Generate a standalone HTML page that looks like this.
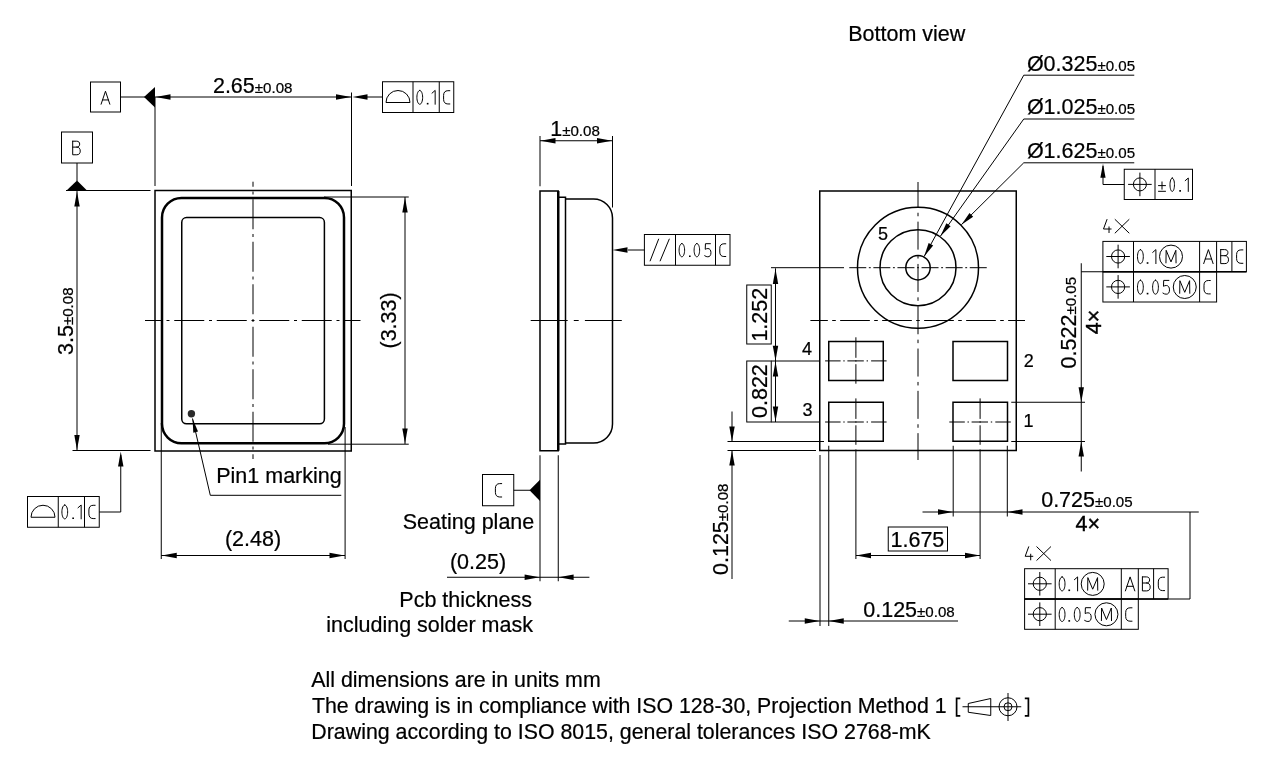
<!DOCTYPE html>
<html><head><meta charset="utf-8"><style>
html,body{margin:0;padding:0;background:#fff;}
svg{display:block;will-change:transform;}
text{font-family:"Liberation Sans",sans-serif;fill:#000;}
</style></head><body>
<svg width="1280" height="768" viewBox="0 0 1280 768" stroke="#000" fill="none">
<rect x="0" y="0" width="1280" height="768" fill="#fff" stroke="none"/>
<g>
<rect x="90.5" y="82" width="30" height="30" fill="none" stroke-width="1"/>
<path d="M0,14 L4.7,0 L9.4,14 M1.55,9.4 L7.85,9.4" transform="translate(101.1,91.2) scale(0.93,0.93)" fill="none" stroke-width="1" vector-effect="non-scaling-stroke" stroke-linecap="round" stroke-linejoin="round"/>
<line x1="120.5" y1="97" x2="145" y2="97" stroke-width="1" />
<path d="M155,87 L155,107.5 L144,97 Z" fill="#000" stroke="none"/>
<line x1="155" y1="97" x2="351.5" y2="97" stroke-width="1" />
<path d="M155.5,97 L170.5,94.3 L170.5,99.7 Z" fill="#000" stroke="none"/>
<path d="M351,97 L336,99.7 L336,94.3 Z" fill="#000" stroke="none"/>
<line x1="155" y1="97" x2="155" y2="186" stroke-width="1" />
<line x1="351.5" y1="92.5" x2="351.5" y2="186" stroke-width="1" />
<text x="212.93" y="92.75" font-size="21.5" stroke="#000" stroke-width="0.22">2.65<tspan font-size="15.1">±0.08</tspan></text>
<rect x="382.5" y="81.75" width="71.25" height="30.75" fill="none" stroke-width="1"/>
<line x1="413" y1="81.75" x2="413" y2="112.5" stroke-width="1" />
<line x1="439.25" y1="81.75" x2="439.25" y2="112.5" stroke-width="1" />
<path d="M386,102.5 A12,12 0 0 1 410,102.5 Z" fill="none" stroke-width="1"/>
<path d="M2.9,0 C4.5,0 5.8,3.1 5.8,7 C5.8,10.9 4.5,14 2.9,14 C1.3,14 0,10.9 0,7 C0,3.1 1.3,0 2.9,0 Z" transform="translate(416.9,90.4) scale(0.99,0.99)" fill="none" stroke-width="1" vector-effect="non-scaling-stroke" stroke-linecap="round" stroke-linejoin="round"/>
<path d="M0,12.6 L1.7,12.6 L1.7,14.2 L0,14.2 Z" transform="translate(426.8,90.4) scale(0.99,0.99)" fill="#000" stroke-width="0" vector-effect="non-scaling-stroke" stroke-linecap="round" stroke-linejoin="round"/>
<path d="M0,2.8 L3.2,0 L3.2,14" transform="translate(432,90.4) scale(0.99,0.99)" fill="none" stroke-width="1" vector-effect="non-scaling-stroke" stroke-linecap="round" stroke-linejoin="round"/>
<path d="M6.6,0.3 L4.6,0.3 C1.8,0.3 0.3,2.1 0.3,5 L0.3,9 C0.3,11.9 1.8,13.7 4.6,13.7 L6.6,13.7" transform="translate(443.3,90.4) scale(0.99,0.99)" fill="none" stroke-width="1" vector-effect="non-scaling-stroke" stroke-linecap="round" stroke-linejoin="round"/>
<line x1="366" y1="97" x2="382.5" y2="97" stroke-width="1" />
<path d="M352.5,97 L367.5,94.3 L367.5,99.7 Z" fill="#000" stroke="none"/>
<rect x="61.5" y="132" width="31" height="31" fill="none" stroke-width="1"/>
<path d="M0.4,0 L0.4,14 L4.6,14 C6.9,14 8.2,12.6 8.2,10.2 C8.2,7.7 6.9,6.1 4.6,6.1 L0.4,6.1 M4.4,6.1 C6.5,6.1 7.6,4.9 7.6,3 C7.6,1.1 6.5,0 4.4,0 L0.4,0" transform="translate(72.3,141.2) scale(0.97,0.97)" fill="none" stroke-width="1" vector-effect="non-scaling-stroke" stroke-linecap="round" stroke-linejoin="round"/>
<line x1="77" y1="163" x2="77" y2="181" stroke-width="1" />
<path d="M66,191 L87.5,191 L77,180.5 Z" fill="#000" stroke="none"/>
<line x1="66" y1="190.5" x2="150.5" y2="190.5" stroke-width="1" />
<line x1="77" y1="191" x2="77" y2="450.5" stroke-width="1" />
<path d="M77,191.5 L79.7,206.5 L74.3,206.5 Z" fill="#000" stroke="none"/>
<path d="M77,450 L74.3,435 L79.7,435 Z" fill="#000" stroke="none"/>
<line x1="72.5" y1="450.5" x2="150.5" y2="450.5" stroke-width="1" />
<text x="0" y="0" font-size="21.5" stroke="#000" stroke-width="0.22" transform="translate(72.9,355) rotate(-90)">3.5<tspan font-size="15.1">±0.08</tspan></text>
<rect x="155" y="190.5" width="196.25" height="260.5" fill="none" stroke-width="1.5"/>
<rect x="162" y="198" width="182" height="245.3" rx="19.5" fill="none" stroke-width="2.5"/>
<rect x="181.75" y="217.6" width="142.65" height="206.2" rx="4.8" fill="none" stroke-width="1.5"/>
<circle cx="191.4" cy="413.8" r="3.7" fill="#2a2a2a" stroke-width="0"/>
<line x1="192.5" y1="418.5" x2="210.3" y2="495.3" stroke-width="1" />
<path d="M192.5,418.5 L198,431.6 L193.32,432.68 Z" fill="#000" stroke="none"/>
<line x1="210.3" y1="495.3" x2="341.25" y2="495.3" stroke-width="1" />
<text x="216.24" y="482.75" font-size="21.5" stroke="#000" stroke-width="0.22">Pin1 marking</text>
<path d="M145,320.5 L161.75,320.5 M166.5,320.5 L169.5,320.5 M174.25,320.5 L204.25,320.5 M209,320.5 L212,320.5 M216.75,320.5 L246.75,320.5 M251.5,320.5 L254.5,320.5 M259.25,320.5 L289.25,320.5 M294,320.5 L297,320.5 M301.75,320.5 L331.75,320.5 M336.5,320.5 L339.5,320.5 M344.25,320.5 L360.5,320.5 " stroke-width="1" fill="none"/>
<path d="M253,181.7 L253,186.75 M253,191.5 L253,194.5 M253,199.25 L253,229.25 M253,234 L253,237 M253,241.75 L253,271.75 M253,276.5 L253,279.5 M253,284.25 L253,314.25 M253,319 L253,322 M253,326.75 L253,356.75 M253,361.5 L253,364.5 M253,369.25 L253,399.25 M253,404 L253,407 M253,411.75 L253,441.75 M253,446.5 L253,449.5 M253,454.25 L253,459 " stroke-width="1" fill="none"/>
<line x1="324" y1="197" x2="408.75" y2="197" stroke-width="1" />
<line x1="328" y1="444.2" x2="408.75" y2="444.2" stroke-width="1" />
<line x1="405" y1="197" x2="405" y2="444" stroke-width="1" />
<path d="M405,197.5 L407.7,212.5 L402.3,212.5 Z" fill="#000" stroke="none"/>
<path d="M405,443.5 L402.3,428.5 L407.7,428.5 Z" fill="#000" stroke="none"/>
<text x="0" y="0" font-size="21.5" stroke="#000" stroke-width="0.22" transform="translate(395.9,348.5) rotate(-90)">(3.33)</text>
<line x1="161.25" y1="423" x2="161.25" y2="559" stroke-width="1" />
<line x1="345.1" y1="427" x2="345.1" y2="559" stroke-width="1" />
<line x1="161.25" y1="555.5" x2="345" y2="555.5" stroke-width="1" />
<path d="M161.75,555.5 L176.75,552.8 L176.75,558.2 Z" fill="#000" stroke="none"/>
<path d="M344.5,555.5 L329.5,558.2 L329.5,552.8 Z" fill="#000" stroke="none"/>
<text x="224.93" y="546" font-size="21.5" stroke="#000" stroke-width="0.22">(2.48)</text>
<rect x="27.5" y="496.5" width="71.75" height="30.75" fill="none" stroke-width="1"/>
<line x1="58.25" y1="496.5" x2="58.25" y2="527.25" stroke-width="1" />
<line x1="84.5" y1="496.5" x2="84.5" y2="527.25" stroke-width="1" />
<path d="M31,517.25 A12,12 0 0 1 55,517.25 Z" fill="none" stroke-width="1"/>
<path d="M2.9,0 C4.5,0 5.8,3.1 5.8,7 C5.8,10.9 4.5,14 2.9,14 C1.3,14 0,10.9 0,7 C0,3.1 1.3,0 2.9,0 Z" transform="translate(61.9,505) scale(0.99,0.99)" fill="none" stroke-width="1" vector-effect="non-scaling-stroke" stroke-linecap="round" stroke-linejoin="round"/>
<path d="M0,12.6 L1.7,12.6 L1.7,14.2 L0,14.2 Z" transform="translate(72.3,505) scale(0.99,0.99)" fill="#000" stroke-width="0" vector-effect="non-scaling-stroke" stroke-linecap="round" stroke-linejoin="round"/>
<path d="M0,2.8 L3.2,0 L3.2,14" transform="translate(78,505) scale(0.99,0.99)" fill="none" stroke-width="1" vector-effect="non-scaling-stroke" stroke-linecap="round" stroke-linejoin="round"/>
<path d="M6.6,0.3 L4.6,0.3 C1.8,0.3 0.3,2.1 0.3,5 L0.3,9 C0.3,11.9 1.8,13.7 4.6,13.7 L6.6,13.7" transform="translate(88.6,505) scale(0.99,0.99)" fill="none" stroke-width="1" vector-effect="non-scaling-stroke" stroke-linecap="round" stroke-linejoin="round"/>
<path d="M99.25,512 L120.75,512 L120.75,455" fill="none" stroke-width="1"/>
<path d="M120.75,451.5 L123.45,466.5 L118.05,466.5 Z" fill="#000" stroke="none"/>
<line x1="540" y1="136" x2="540" y2="186.25" stroke-width="1" />
<line x1="612.5" y1="136" x2="612.5" y2="207.5" stroke-width="1" />
<line x1="540" y1="140.75" x2="612.5" y2="140.75" stroke-width="1" />
<path d="M540.5,140.75 L555.5,138.05 L555.5,143.45 Z" fill="#000" stroke="none"/>
<path d="M612,140.75 L597,143.45 L597,138.05 Z" fill="#000" stroke="none"/>
<text x="550.16" y="136" font-size="21.5" stroke="#000" stroke-width="0.22">1<tspan font-size="15.1">±0.08</tspan></text>
<rect x="540" y="191" width="18.25" height="259.75" fill="none" stroke-width="1.5"/>
<line x1="558.25" y1="191" x2="558.25" y2="450.75" stroke-width="2.5" />
<rect x="558.25" y="197.25" width="7.25" height="246.75" fill="none" stroke-width="1.5"/>
<path d="M565.5,199 L593.5,199 A19,19 0 0 1 612.5,218 L612.5,424 A19,19 0 0 1 593.5,443 L565.5,443" fill="none" stroke-width="1.5"/>
<path d="M530.7,320.5 L567.7,320.5 M573.8,320.5 L578.7,320.5 M584.9,320.5 L621.8,320.5 " stroke-width="1" fill="none"/>
<line x1="628" y1="250" x2="644.4" y2="250" stroke-width="1" />
<path d="M612.5,250 L627.5,247.3 L627.5,252.7 Z" fill="#000" stroke="none"/>
<rect x="644.4" y="234.5" width="85.6" height="30.75" fill="none" stroke-width="1"/>
<line x1="675.5" y1="234.5" x2="675.5" y2="265.25" stroke-width="1" />
<line x1="715.5" y1="234.5" x2="715.5" y2="265.25" stroke-width="1" />
<path d="M650,261.25 L658.75,238.75 M660,261.25 L669.4,238.75" stroke-width="1"/>
<path d="M2.9,0 C4.5,0 5.8,3.1 5.8,7 C5.8,10.9 4.5,14 2.9,14 C1.3,14 0,10.9 0,7 C0,3.1 1.3,0 2.9,0 Z" transform="translate(679.1,243.5) scale(0.95,0.95)" fill="none" stroke-width="1" vector-effect="non-scaling-stroke" stroke-linecap="round" stroke-linejoin="round"/>
<path d="M0,12.6 L1.7,12.6 L1.7,14.2 L0,14.2 Z" transform="translate(689,243.5) scale(0.95,0.95)" fill="#000" stroke-width="0" vector-effect="non-scaling-stroke" stroke-linecap="round" stroke-linejoin="round"/>
<path d="M2.9,0 C4.5,0 5.8,3.1 5.8,7 C5.8,10.9 4.5,14 2.9,14 C1.3,14 0,10.9 0,7 C0,3.1 1.3,0 2.9,0 Z" transform="translate(694.1,243.5) scale(0.95,0.95)" fill="none" stroke-width="1" vector-effect="non-scaling-stroke" stroke-linecap="round" stroke-linejoin="round"/>
<path d="M6.4,0.2 L1.2,0.2 L1.0,6.1 C1.8,5.6 2.8,5.3 3.8,5.3 C5.8,5.3 7,7 7,9.7 C7,12.5 5.8,14 3.7,14 C2.5,14 1.4,13.6 0.4,12.9" transform="translate(704.3,243.5) scale(0.95,0.95)" fill="none" stroke-width="1" vector-effect="non-scaling-stroke" stroke-linecap="round" stroke-linejoin="round"/>
<path d="M6.6,0.3 L4.6,0.3 C1.8,0.3 0.3,2.1 0.3,5 L0.3,9 C0.3,11.9 1.8,13.7 4.6,13.7 L6.6,13.7" transform="translate(719.5,243.5) scale(0.95,0.95)" fill="none" stroke-width="1" vector-effect="non-scaling-stroke" stroke-linecap="round" stroke-linejoin="round"/>
<rect x="482.5" y="474.5" width="31.25" height="31.25" fill="none" stroke-width="1"/>
<path d="M6.6,0.3 L4.6,0.3 C1.8,0.3 0.3,2.1 0.3,5 L0.3,9 C0.3,11.9 1.8,13.7 4.6,13.7 L6.6,13.7" transform="translate(495.1,483.3) scale(1,1)" fill="none" stroke-width="1" vector-effect="non-scaling-stroke" stroke-linecap="round" stroke-linejoin="round"/>
<line x1="513.75" y1="490.25" x2="530" y2="490.25" stroke-width="1" />
<path d="M540,479.75 L540,501 L529.5,490.25 Z" fill="#000" stroke="none"/>
<text x="402.78" y="529" font-size="21.5" stroke="#000" stroke-width="0.22">Seating plane</text>
<line x1="540" y1="455.25" x2="540" y2="581.25" stroke-width="1" />
<line x1="558.25" y1="455.25" x2="558.25" y2="581.25" stroke-width="1" />
<line x1="447" y1="577.25" x2="589.4" y2="577.25" stroke-width="1" />
<path d="M539.6,577.25 L524.6,579.95 L524.6,574.55 Z" fill="#000" stroke="none"/>
<path d="M558.6,577.25 L573.6,574.55 L573.6,579.95 Z" fill="#000" stroke="none"/>
<text x="449.92" y="568.7" font-size="21.5" stroke="#000" stroke-width="0.22">(0.25)</text>
<text x="532" y="607.25" font-size="21.5" text-anchor="end" stroke="#000" stroke-width="0.22">Pcb thickness</text>
<text x="533" y="632.25" font-size="21.5" text-anchor="end" stroke="#000" stroke-width="0.22">including solder mask</text>
<text x="848.24" y="41.25" font-size="21.5" stroke="#000" stroke-width="0.22">Bottom view</text>
<rect x="819.75" y="191" width="196.5" height="259.5" fill="none" stroke-width="1.5"/>
<path d="M918,182 L918,207.35 M918,212.75 L918,216.25 M918,221.65 L918,249.65 M918,255.05 L918,258.55 M918,263.95 L918,291.95 M918,297.35 L918,300.85 M918,306.25 L918,334.25 M918,339.65 L918,343.15 M918,348.55 L918,376.55 M918,381.95 L918,385.45 M918,390.85 L918,418.85 M918,424.25 L918,427.75 M918,433.15 L918,460 " stroke-width="1" fill="none"/>
<line x1="771" y1="267.7" x2="844" y2="267.7" stroke-width="1" />
<path d="M849.25,267.7 L866.25,267.7 M868.85,267.7 L870.75,267.7 M873.35,267.7 L890.35,267.7 M892.95,267.7 L894.85,267.7 M897.45,267.7 L914.45,267.7 M917.05,267.7 L918.95,267.7 M921.55,267.7 L938.55,267.7 M941.15,267.7 L943.05,267.7 M945.65,267.7 L962.65,267.7 M965.25,267.7 L967.15,267.7 M969.75,267.7 L986.75,267.7 " stroke-width="1" fill="none"/>
<path d="M810.4,320.5 L827.85,320.5 M832.2,320.5 L835.8,320.5 M840.15,320.5 L869.85,320.5 M874.2,320.5 L877.8,320.5 M882.15,320.5 L911.85,320.5 M916.2,320.5 L919.8,320.5 M924.15,320.5 L953.85,320.5 M958.2,320.5 L961.8,320.5 M966.15,320.5 L995.85,320.5 M1000.2,320.5 L1003.8,320.5 M1008.15,320.5 L1025,320.5 " stroke-width="1" fill="none"/>
<circle cx="918" cy="267.7" r="12.2" fill="none" stroke-width="1.5"/>
<circle cx="918" cy="267.7" r="38" fill="none" stroke-width="1.5"/>
<circle cx="918" cy="267.7" r="60.5" fill="none" stroke-width="1.5"/>
<text x="878" y="239.75" font-size="18" stroke="#000" stroke-width="0.22">5</text>
<line x1="1023.75" y1="75.2" x2="924.16" y2="256.48" stroke-width="1" />
<path d="M924.16,256.48 L928.62,242.96 L933.18,245.46 Z" fill="#000" stroke="none"/>
<line x1="1023.75" y1="75.2" x2="1134.25" y2="75.2" stroke-width="1" />
<line x1="1023.75" y1="119" x2="940.37" y2="236.24" stroke-width="1" />
<path d="M940.37,236.24 L946.37,223.33 L950.6,226.34 Z" fill="#000" stroke="none"/>
<line x1="1023.75" y1="119" x2="1134.25" y2="119" stroke-width="1" />
<line x1="1023.75" y1="162.8" x2="961.38" y2="224.67" stroke-width="1" />
<path d="M961.38,224.67 L969.49,212.97 L973.15,216.66 Z" fill="#000" stroke="none"/>
<line x1="1023.75" y1="162.8" x2="1134.25" y2="162.8" stroke-width="1" />
<text x="1026.9" y="70.6" font-size="21.5" stroke="#000" stroke-width="0.22">Ø0.325<tspan font-size="15.1">±0.05</tspan></text>
<text x="1026.9" y="113.9" font-size="21.5" stroke="#000" stroke-width="0.22">Ø1.025<tspan font-size="15.1">±0.05</tspan></text>
<text x="1026.9" y="157.6" font-size="21.5" stroke="#000" stroke-width="0.22">Ø1.625<tspan font-size="15.1">±0.05</tspan></text>
<path d="M1103,166 L1103,184.5 L1124.25,184.5" fill="none" stroke-width="1"/>
<path d="M1103,163.75 L1105.6,177.75 L1100.4,177.75 Z" fill="#000" stroke="none"/>
<rect x="1124.25" y="169.25" width="68.25" height="30.25" fill="none" stroke-width="1"/>
<line x1="1155" y1="169.25" x2="1155" y2="199.5" stroke-width="1" />
<circle cx="1139.9" cy="184.4" r="6.5" fill="none" stroke-width="1"/>
<line x1="1128.1" y1="184.4" x2="1151.7" y2="184.4" stroke-width="1" />
<line x1="1139.9" y1="172.6" x2="1139.9" y2="196.2" stroke-width="1" />
<path d="M3.5,3.3 L3.5,10.6 M0,7 L7,7 M0,12.7 L7,12.7" transform="translate(1158.5,178.6) scale(1,1)" fill="none" stroke-width="1" vector-effect="non-scaling-stroke" stroke-linecap="round" stroke-linejoin="round"/>
<path d="M2.9,0 C4.5,0 5.8,3.1 5.8,7 C5.8,10.9 4.5,14 2.9,14 C1.3,14 0,10.9 0,7 C0,3.1 1.3,0 2.9,0 Z" transform="translate(1170,178) scale(0.77,0.96)" fill="none" stroke-width="1" vector-effect="non-scaling-stroke" stroke-linecap="round" stroke-linejoin="round"/>
<path d="M0,12.6 L1.7,12.6 L1.7,14.2 L0,14.2 Z" transform="translate(1179.3,178) scale(0.96,0.96)" fill="#000" stroke-width="0" vector-effect="non-scaling-stroke" stroke-linecap="round" stroke-linejoin="round"/>
<path d="M0,2.8 L3.2,0 L3.2,14" transform="translate(1185.2,178) scale(0.96,0.96)" fill="none" stroke-width="1" vector-effect="non-scaling-stroke" stroke-linecap="round" stroke-linejoin="round"/>
<rect x="828.75" y="341.5" width="54.5" height="39" fill="none" stroke-width="1.5"/>
<rect x="953" y="341.5" width="54.5" height="39" fill="none" stroke-width="1.5"/>
<rect x="828.75" y="402.25" width="54.5" height="39" fill="none" stroke-width="1.5"/>
<rect x="953" y="402.25" width="54.5" height="39" fill="none" stroke-width="1.5"/>
<path d="M825.1,360.9 L840.6,360.9 M843.3,360.9 L844.7,360.9 M847.4,360.9 L863.8,360.9 M866.6,360.9 L868,360.9 M871.1,360.9 L886.6,360.9 M855.9,337.3 L855.9,357.8 M855.9,360.2 L855.9,361.6 M855.9,364.2 L855.9,383.7 " stroke-width="1" fill="none"/>
<path d="M825.1,422 L840.6,422 M843.3,422 L844.7,422 M847.4,422 L863.8,422 M866.6,422 L868,422 M871.1,422 L886.6,422 M855.9,398.4 L855.9,418.9 M855.9,421.3 L855.9,422.7 M855.9,425.3 L855.9,444.8 " stroke-width="1" fill="none"/>
<path d="M949.3,422 L964.8,422 M967.5,422 L968.9,422 M971.6,422 L988,422 M990.8,422 L992.2,422 M995.3,422 L1010.8,422 M980.1,398.4 L980.1,418.9 M980.1,421.3 L980.1,422.7 M980.1,425.3 L980.1,444.8 " stroke-width="1" fill="none"/>
<line x1="855.9" y1="449.4" x2="855.9" y2="559" stroke-width="1" />
<line x1="980.1" y1="449.4" x2="980.1" y2="559" stroke-width="1" />
<text x="802" y="354.5" font-size="18" stroke="#000" stroke-width="0.22">4</text>
<text x="802.5" y="416" font-size="18" stroke="#000" stroke-width="0.22">3</text>
<text x="1023.75" y="367" font-size="18" stroke="#000" stroke-width="0.22">2</text>
<text x="1023.5" y="426.5" font-size="18" stroke="#000" stroke-width="0.22">1</text>
<line x1="771.25" y1="361" x2="819.75" y2="361" stroke-width="1" />
<line x1="771.25" y1="422" x2="819.75" y2="422" stroke-width="1" />
<line x1="775.5" y1="268.3" x2="775.5" y2="422" stroke-width="1" />
<path d="M775.5,269 L778.2,284 L772.8,284 Z" fill="#000" stroke="none"/>
<path d="M775.5,360.8 L772.8,345.8 L778.2,345.8 Z" fill="#000" stroke="none"/>
<path d="M775.5,361.5 L778.2,376.5 L772.8,376.5 Z" fill="#000" stroke="none"/>
<path d="M775.5,421.5 L772.8,406.5 L778.2,406.5 Z" fill="#000" stroke="none"/>
<rect x="746.75" y="285" width="24.5" height="59" fill="none" stroke-width="1"/>
<rect x="746.75" y="361" width="24.5" height="61" fill="none" stroke-width="1"/>
<text x="0" y="0" font-size="21.5" stroke="#000" stroke-width="0.22" transform="translate(767.4,341.6) rotate(-90)">1.252</text>
<text x="0" y="0" font-size="21.5" stroke="#000" stroke-width="0.22" transform="translate(767.4,418) rotate(-90)">0.822</text>
<line x1="727.5" y1="441.5" x2="824" y2="441.5" stroke-width="1" />
<line x1="727.5" y1="450.5" x2="816" y2="450.5" stroke-width="1" />
<line x1="732" y1="411.5" x2="732" y2="441.5" stroke-width="1" />
<path d="M732,441.5 L729.3,426.5 L734.7,426.5 Z" fill="#000" stroke="none"/>
<line x1="732" y1="450.5" x2="732" y2="579" stroke-width="1" />
<path d="M732,450.5 L734.7,465.5 L729.3,465.5 Z" fill="#000" stroke="none"/>
<text x="0" y="0" font-size="21.5" stroke="#000" stroke-width="0.22" transform="translate(727.5,575) rotate(-90)">0.125<tspan font-size="15.1">±0.08</tspan></text>
<line x1="820" y1="455" x2="820" y2="626" stroke-width="1" />
<line x1="828.75" y1="445.75" x2="828.75" y2="626" stroke-width="1" />
<line x1="953.2" y1="445.75" x2="953.2" y2="516.5" stroke-width="1" />
<line x1="1007.3" y1="445.75" x2="1007.3" y2="516.5" stroke-width="1" />
<line x1="788.75" y1="621" x2="958" y2="621" stroke-width="1" />
<path d="M819.75,621 L804.75,623.7 L804.75,618.3 Z" fill="#000" stroke="none"/>
<path d="M828.75,621 L843.75,618.3 L843.75,623.7 Z" fill="#000" stroke="none"/>
<text x="863.25" y="616.5" font-size="21.5" stroke="#000" stroke-width="0.22">0.125<tspan font-size="15.1">±0.08</tspan></text>
<line x1="856" y1="555.5" x2="980" y2="555.5" stroke-width="1" />
<path d="M856,555.5 L871,552.8 L871,558.2 Z" fill="#000" stroke="none"/>
<path d="M980,555.5 L965,558.2 L965,552.8 Z" fill="#000" stroke="none"/>
<rect x="888.25" y="527" width="59.25" height="24" fill="none" stroke-width="1"/>
<text x="890.5" y="546.5" font-size="21.5" stroke="#000" stroke-width="0.22">1.675</text>
<line x1="922.5" y1="512" x2="1198.75" y2="512" stroke-width="1" />
<path d="M953,512 L938,514.7 L938,509.3 Z" fill="#000" stroke="none"/>
<path d="M1007.5,512 L1022.5,509.3 L1022.5,514.7 Z" fill="#000" stroke="none"/>
<path d="M1190,512 L1190,599 L1168.25,599" fill="none" stroke-width="1"/>
<text x="1041.2" y="507" font-size="21.5" stroke="#000" stroke-width="0.22">0.725<tspan font-size="15.1">±0.05</tspan></text>
<text x="1075.5" y="531.4" font-size="21.5" stroke="#000" stroke-width="0.42">4×</text>
<line x1="1011.25" y1="402.25" x2="1085" y2="402.25" stroke-width="1" />
<line x1="1011.25" y1="441.5" x2="1085" y2="441.5" stroke-width="1" />
<line x1="1081.25" y1="263.25" x2="1081.25" y2="402.25" stroke-width="1" />
<path d="M1081.25,402.25 L1078.55,387.25 L1083.95,387.25 Z" fill="#000" stroke="none"/>
<line x1="1081.25" y1="402.25" x2="1081.25" y2="471.5" stroke-width="1" />
<path d="M1081.25,441.5 L1083.95,456.5 L1078.55,456.5 Z" fill="#000" stroke="none"/>
<line x1="1081.25" y1="271.75" x2="1102.9" y2="271.75" stroke-width="1" />
<text x="0" y="0" font-size="21.5" stroke="#000" stroke-width="0.22" transform="translate(1076.1,368.4) rotate(-90)">0.522<tspan font-size="15.1">±0.05</tspan></text>
<text x="0" y="0" font-size="21.5" stroke="#000" stroke-width="0.42" transform="translate(1100.6,334.2) rotate(-90)">4×</text>
<rect x="1102.9" y="241.4" width="143.5" height="30.35" fill="none" stroke-width="1"/>
<rect x="1102.9" y="271.75" width="113.7" height="30.25" fill="none" stroke-width="1"/>
<line x1="1102.9" y1="271.75" x2="1246.4" y2="271.75" stroke-width="1.4" />
<line x1="1133.5" y1="241.4" x2="1133.5" y2="271.75" stroke-width="1" />
<line x1="1199.6" y1="241.4" x2="1199.6" y2="271.75" stroke-width="1" />
<line x1="1216.6" y1="241.4" x2="1216.6" y2="271.75" stroke-width="1" />
<line x1="1231.9" y1="241.4" x2="1231.9" y2="271.75" stroke-width="1" />
<line x1="1133.5" y1="271.75" x2="1133.5" y2="302" stroke-width="1" />
<line x1="1199.6" y1="271.75" x2="1199.6" y2="302" stroke-width="1" />
<path d="M4,0 L0.4,9.8 L8.3,9.8 M6.1,7.6 L6.1,13.5" transform="translate(1103.1,219.5) scale(0.97,0.97)" fill="none" stroke-width="1" vector-effect="non-scaling-stroke" stroke-linecap="round" stroke-linejoin="round"/>
<path d="M0,0 L13.9,13.5 M13.9,0 L0,13.5" transform="translate(1115.1,219.5) scale(1,1)" fill="none" stroke-width="1" vector-effect="non-scaling-stroke" stroke-linecap="round" stroke-linejoin="round"/>
<circle cx="1118.1" cy="256.5" r="6.6" fill="none" stroke-width="1"/>
<line x1="1106.3" y1="256.5" x2="1129.9" y2="256.5" stroke-width="1" />
<line x1="1118.1" y1="244.7" x2="1118.1" y2="268.3" stroke-width="1" />
<circle cx="1118.1" cy="286.9" r="6.6" fill="none" stroke-width="1"/>
<line x1="1106.3" y1="286.9" x2="1129.9" y2="286.9" stroke-width="1" />
<line x1="1118.1" y1="275.1" x2="1118.1" y2="298.7" stroke-width="1" />
<path d="M2.9,0 C4.5,0 5.8,3.1 5.8,7 C5.8,10.9 4.5,14 2.9,14 C1.3,14 0,10.9 0,7 C0,3.1 1.3,0 2.9,0 Z" transform="translate(1137.5,249.6) scale(1,1)" fill="none" stroke-width="1" vector-effect="non-scaling-stroke" stroke-linecap="round" stroke-linejoin="round"/>
<path d="M0,12.6 L1.7,12.6 L1.7,14.2 L0,14.2 Z" transform="translate(1146.7,249.6) scale(1,1)" fill="#000" stroke-width="0" vector-effect="non-scaling-stroke" stroke-linecap="round" stroke-linejoin="round"/>
<path d="M0,2.8 L3.2,0 L3.2,14" transform="translate(1152.7,249.6) scale(1,1)" fill="none" stroke-width="1" vector-effect="non-scaling-stroke" stroke-linecap="round" stroke-linejoin="round"/>
<circle cx="1171" cy="256.6" r="11.5" fill="none" stroke-width="1"/>
<path d="M0,12.6 L0.2,0 L5.05,11.6 L9.9,0 L10.1,12.6" transform="translate(1165.95,250.3) scale(1,1)" fill="none" stroke-width="1" vector-effect="non-scaling-stroke" stroke-linecap="round" stroke-linejoin="round"/>
<path d="M0,14 L4.7,0 L9.4,14 M1.55,9.4 L7.85,9.4" transform="translate(1203.7,249.6) scale(1,1)" fill="none" stroke-width="1" vector-effect="non-scaling-stroke" stroke-linecap="round" stroke-linejoin="round"/>
<path d="M0.4,0 L0.4,14 L4.6,14 C6.9,14 8.2,12.6 8.2,10.2 C8.2,7.7 6.9,6.1 4.6,6.1 L0.4,6.1 M4.4,6.1 C6.5,6.1 7.6,4.9 7.6,3 C7.6,1.1 6.5,0 4.4,0 L0.4,0" transform="translate(1220.3,249.6) scale(1,1)" fill="none" stroke-width="1" vector-effect="non-scaling-stroke" stroke-linecap="round" stroke-linejoin="round"/>
<path d="M6.6,0.3 L4.6,0.3 C1.8,0.3 0.3,2.1 0.3,5 L0.3,9 C0.3,11.9 1.8,13.7 4.6,13.7 L6.6,13.7" transform="translate(1236.3,249.6) scale(1,1)" fill="none" stroke-width="1" vector-effect="non-scaling-stroke" stroke-linecap="round" stroke-linejoin="round"/>
<path d="M2.9,0 C4.5,0 5.8,3.1 5.8,7 C5.8,10.9 4.5,14 2.9,14 C1.3,14 0,10.9 0,7 C0,3.1 1.3,0 2.9,0 Z" transform="translate(1137.5,280.2) scale(1,1)" fill="none" stroke-width="1" vector-effect="non-scaling-stroke" stroke-linecap="round" stroke-linejoin="round"/>
<path d="M0,12.6 L1.7,12.6 L1.7,14.2 L0,14.2 Z" transform="translate(1146.7,280.2) scale(1,1)" fill="#000" stroke-width="0" vector-effect="non-scaling-stroke" stroke-linecap="round" stroke-linejoin="round"/>
<path d="M2.9,0 C4.5,0 5.8,3.1 5.8,7 C5.8,10.9 4.5,14 2.9,14 C1.3,14 0,10.9 0,7 C0,3.1 1.3,0 2.9,0 Z" transform="translate(1152.6,280.2) scale(1,1)" fill="none" stroke-width="1" vector-effect="non-scaling-stroke" stroke-linecap="round" stroke-linejoin="round"/>
<path d="M6.4,0.2 L1.2,0.2 L1.0,6.1 C1.8,5.6 2.8,5.3 3.8,5.3 C5.8,5.3 7,7 7,9.7 C7,12.5 5.8,14 3.7,14 C2.5,14 1.4,13.6 0.4,12.9" transform="translate(1162.5,280.2) scale(1,1)" fill="none" stroke-width="1" vector-effect="non-scaling-stroke" stroke-linecap="round" stroke-linejoin="round"/>
<circle cx="1184.75" cy="287" r="11.5" fill="none" stroke-width="1"/>
<path d="M0,12.6 L0.2,0 L5.05,11.6 L9.9,0 L10.1,12.6" transform="translate(1179.7,280.7) scale(1,1)" fill="none" stroke-width="1" vector-effect="non-scaling-stroke" stroke-linecap="round" stroke-linejoin="round"/>
<path d="M6.6,0.3 L4.6,0.3 C1.8,0.3 0.3,2.1 0.3,5 L0.3,9 C0.3,11.9 1.8,13.7 4.6,13.7 L6.6,13.7" transform="translate(1203.7,280.2) scale(1,1)" fill="none" stroke-width="1" vector-effect="non-scaling-stroke" stroke-linecap="round" stroke-linejoin="round"/>
<rect x="1024.6" y="568.7" width="143.5" height="30.35" fill="none" stroke-width="1"/>
<rect x="1024.6" y="599.05" width="113.7" height="30.25" fill="none" stroke-width="1"/>
<line x1="1024.6" y1="599.05" x2="1168.1" y2="599.05" stroke-width="1.4" />
<line x1="1055.2" y1="568.7" x2="1055.2" y2="599.05" stroke-width="1" />
<line x1="1121.3" y1="568.7" x2="1121.3" y2="599.05" stroke-width="1" />
<line x1="1138.3" y1="568.7" x2="1138.3" y2="599.05" stroke-width="1" />
<line x1="1153.6" y1="568.7" x2="1153.6" y2="599.05" stroke-width="1" />
<line x1="1055.2" y1="599.05" x2="1055.2" y2="629.3" stroke-width="1" />
<line x1="1121.3" y1="599.05" x2="1121.3" y2="629.3" stroke-width="1" />
<path d="M4,0 L0.4,9.8 L8.3,9.8 M6.1,7.6 L6.1,13.5" transform="translate(1024.8,546.8) scale(0.97,0.97)" fill="none" stroke-width="1" vector-effect="non-scaling-stroke" stroke-linecap="round" stroke-linejoin="round"/>
<path d="M0,0 L13.9,13.5 M13.9,0 L0,13.5" transform="translate(1036.8,546.8) scale(1,1)" fill="none" stroke-width="1" vector-effect="non-scaling-stroke" stroke-linecap="round" stroke-linejoin="round"/>
<circle cx="1039.8" cy="583.8" r="6.6" fill="none" stroke-width="1"/>
<line x1="1028" y1="583.8" x2="1051.6" y2="583.8" stroke-width="1" />
<line x1="1039.8" y1="572" x2="1039.8" y2="595.6" stroke-width="1" />
<circle cx="1039.8" cy="614.2" r="6.6" fill="none" stroke-width="1"/>
<line x1="1028" y1="614.2" x2="1051.6" y2="614.2" stroke-width="1" />
<line x1="1039.8" y1="602.4" x2="1039.8" y2="626" stroke-width="1" />
<path d="M2.9,0 C4.5,0 5.8,3.1 5.8,7 C5.8,10.9 4.5,14 2.9,14 C1.3,14 0,10.9 0,7 C0,3.1 1.3,0 2.9,0 Z" transform="translate(1059.2,576.9) scale(1,1)" fill="none" stroke-width="1" vector-effect="non-scaling-stroke" stroke-linecap="round" stroke-linejoin="round"/>
<path d="M0,12.6 L1.7,12.6 L1.7,14.2 L0,14.2 Z" transform="translate(1068.4,576.9) scale(1,1)" fill="#000" stroke-width="0" vector-effect="non-scaling-stroke" stroke-linecap="round" stroke-linejoin="round"/>
<path d="M0,2.8 L3.2,0 L3.2,14" transform="translate(1074.4,576.9) scale(1,1)" fill="none" stroke-width="1" vector-effect="non-scaling-stroke" stroke-linecap="round" stroke-linejoin="round"/>
<circle cx="1092.7" cy="583.9" r="11.5" fill="none" stroke-width="1"/>
<path d="M0,12.6 L0.2,0 L5.05,11.6 L9.9,0 L10.1,12.6" transform="translate(1087.65,577.6) scale(1,1)" fill="none" stroke-width="1" vector-effect="non-scaling-stroke" stroke-linecap="round" stroke-linejoin="round"/>
<path d="M0,14 L4.7,0 L9.4,14 M1.55,9.4 L7.85,9.4" transform="translate(1125.4,576.9) scale(1,1)" fill="none" stroke-width="1" vector-effect="non-scaling-stroke" stroke-linecap="round" stroke-linejoin="round"/>
<path d="M0.4,0 L0.4,14 L4.6,14 C6.9,14 8.2,12.6 8.2,10.2 C8.2,7.7 6.9,6.1 4.6,6.1 L0.4,6.1 M4.4,6.1 C6.5,6.1 7.6,4.9 7.6,3 C7.6,1.1 6.5,0 4.4,0 L0.4,0" transform="translate(1142,576.9) scale(1,1)" fill="none" stroke-width="1" vector-effect="non-scaling-stroke" stroke-linecap="round" stroke-linejoin="round"/>
<path d="M6.6,0.3 L4.6,0.3 C1.8,0.3 0.3,2.1 0.3,5 L0.3,9 C0.3,11.9 1.8,13.7 4.6,13.7 L6.6,13.7" transform="translate(1158,576.9) scale(1,1)" fill="none" stroke-width="1" vector-effect="non-scaling-stroke" stroke-linecap="round" stroke-linejoin="round"/>
<path d="M2.9,0 C4.5,0 5.8,3.1 5.8,7 C5.8,10.9 4.5,14 2.9,14 C1.3,14 0,10.9 0,7 C0,3.1 1.3,0 2.9,0 Z" transform="translate(1059.2,607.5) scale(1,1)" fill="none" stroke-width="1" vector-effect="non-scaling-stroke" stroke-linecap="round" stroke-linejoin="round"/>
<path d="M0,12.6 L1.7,12.6 L1.7,14.2 L0,14.2 Z" transform="translate(1068.4,607.5) scale(1,1)" fill="#000" stroke-width="0" vector-effect="non-scaling-stroke" stroke-linecap="round" stroke-linejoin="round"/>
<path d="M2.9,0 C4.5,0 5.8,3.1 5.8,7 C5.8,10.9 4.5,14 2.9,14 C1.3,14 0,10.9 0,7 C0,3.1 1.3,0 2.9,0 Z" transform="translate(1074.3,607.5) scale(1,1)" fill="none" stroke-width="1" vector-effect="non-scaling-stroke" stroke-linecap="round" stroke-linejoin="round"/>
<path d="M6.4,0.2 L1.2,0.2 L1.0,6.1 C1.8,5.6 2.8,5.3 3.8,5.3 C5.8,5.3 7,7 7,9.7 C7,12.5 5.8,14 3.7,14 C2.5,14 1.4,13.6 0.4,12.9" transform="translate(1084.2,607.5) scale(1,1)" fill="none" stroke-width="1" vector-effect="non-scaling-stroke" stroke-linecap="round" stroke-linejoin="round"/>
<circle cx="1106.45" cy="614.3" r="11.5" fill="none" stroke-width="1"/>
<path d="M0,12.6 L0.2,0 L5.05,11.6 L9.9,0 L10.1,12.6" transform="translate(1101.4,608) scale(1,1)" fill="none" stroke-width="1" vector-effect="non-scaling-stroke" stroke-linecap="round" stroke-linejoin="round"/>
<path d="M6.6,0.3 L4.6,0.3 C1.8,0.3 0.3,2.1 0.3,5 L0.3,9 C0.3,11.9 1.8,13.7 4.6,13.7 L6.6,13.7" transform="translate(1125.4,607.5) scale(1,1)" fill="none" stroke-width="1" vector-effect="non-scaling-stroke" stroke-linecap="round" stroke-linejoin="round"/>
<text x="311.25" y="686.75" font-size="21.35" stroke="#000" stroke-width="0.22">All dimensions are in units mm</text>
<text x="312" y="712.5" font-size="21.3" stroke="#000" stroke-width="0.22">The drawing is in compliance with ISO 128-30, Projection Method 1</text>
<path d="M960.3,698.3 L956.6,698.3 L956.6,715.8 L960.3,715.8 M1024.8,698.3 L1028.4,698.3 L1028.4,715.8 L1024.8,715.8" stroke-width="1.7"/>
<line x1="962.5" y1="706.75" x2="1021.25" y2="706.75" stroke-width="1" />
<path d="M968.25,703.5 L990.75,698.5 L990.75,715.5 L968.25,712.25 Z" fill="none" stroke-width="1"/>
<circle cx="1008" cy="706.75" r="9" fill="none" stroke-width="1"/>
<circle cx="1008" cy="706.75" r="4" fill="none" stroke-width="1"/>
<line x1="1008" y1="693" x2="1008" y2="721" stroke-width="1" />
<text x="311.35" y="739.3" font-size="21.35" stroke="#000" stroke-width="0.22">Drawing according to ISO 8015, general tolerances ISO 2768-mK</text>
</g>
</svg>
</body></html>
